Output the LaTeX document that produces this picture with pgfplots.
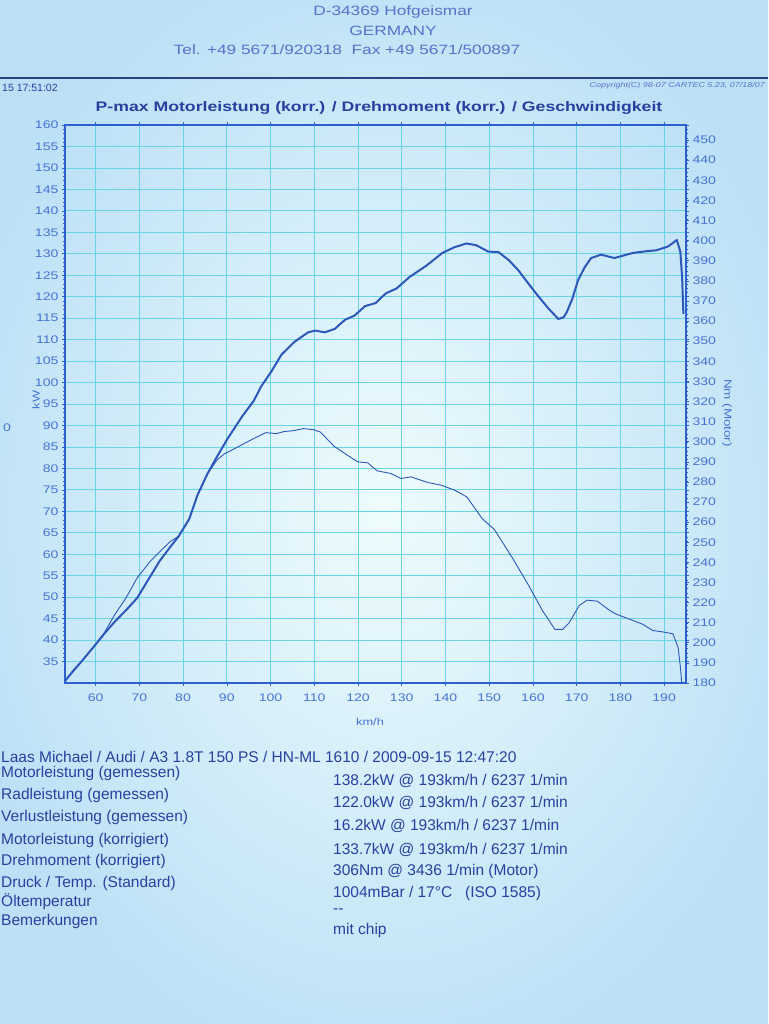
\documentclass[border=0pt]{standalone}
\usepackage{fontspec}
\setmainfont{Liberation Sans}
\newfontfamily\wide[FakeStretch=1.28]{Liberation Sans}
\usepackage{pgfplots}
\pgfplotsset{compat=1.18}
\definecolor{bgin}{RGB}{238,252,252}
\definecolor{bgout}{RGB}{188,224,246}
\definecolor{gridc}{RGB}{105,212,228}
\definecolor{axc}{RGB}{45,95,205}
\definecolor{curvec}{RGB}{45,88,185}
\definecolor{tickc}{RGB}{70,115,210}
\definecolor{txtc}{RGB}{40,65,160}
\definecolor{hdrc}{RGB}{85,115,200}
\definecolor{rulec}{RGB}{45,65,135}

\pgfplotstableread{
x kW
52.8 30.2
55.0 33.0
56.6 34.8
59.7 38.6
62.0 41.5
64.3 44.2
67.0 47.0
69.5 49.8
72.0 54.0
74.7 58.5
77.0 61.6
79.0 64.2
81.4 68.2
83.3 73.8
85.6 78.8
87.8 82.8
90.1 86.8
93.5 92.1
96.2 95.8
97.8 99.0
100.2 102.6
102.5 106.5
105.5 109.5
108.6 111.7
110.2 112.1
112.4 111.7
114.7 112.5
117.0 114.6
119.2 115.6
121.6 117.8
124.0 118.5
126.4 120.8
128.8 121.9
131.8 124.6
135.6 127.2
139.3 130.2
142.0 131.5
144.8 132.4
147.0 132.0
149.8 130.5
152.1 130.4
154.5 128.5
156.7 126.1
159.0 123.0
161.3 120.0
163.5 117.3
165.8 114.8
167.0 115.2
167.7 116.3
169.0 119.5
170.3 123.8
171.8 126.8
173.3 129.0
175.6 129.8
178.6 129.0
182.9 130.2
186.0 130.6
188.2 130.8
190.9 131.7
192.9 133.2
193.7 130.5
194.1 124.7
194.4 116.0
}\powertable

\pgfplotstableread{
x Nm
52.8 180.5
55.0 186.0
56.6 190.2
59.7 198.4
62.0 205.0
64.3 213.7
67.0 222.5
69.5 232.3
72.6 240.8
75.0 246.0
77.1 250.4
79.0 253.0
81.4 261.5
83.3 273.5
85.6 284.1
87.8 291.0
89.5 294.0
91.3 296.0
95.8 301.2
98.9 304.5
101.3 304.0
103.0 305.0
105.2 305.5
107.5 306.5
109.8 306.0
111.4 304.8
114.5 297.8
116.8 294.4
119.9 290.0
122.2 289.5
124.4 285.5
127.5 284.2
129.8 281.7
132.1 282.5
136.0 279.7
139.1 278.3
142.2 275.8
144.9 272.5
148.4 261.7
151.2 256.3
155.3 242.2
159.1 228.2
162.1 216.3
165.0 206.7
166.8 206.7
168.3 210.0
170.6 218.6
172.4 221.2
174.7 220.7
177.6 216.0
179.1 214.2
182.0 211.8
185.1 209.2
187.4 206.1
189.7 205.4
192.0 204.5
193.2 197.6
193.7 188.2
194.0 180.5
}\torquetable

\begin{document}
\begin{tikzpicture}[x=1pt,y=1pt]
\path[use as bounding box] (0,0) rectangle (768,1024);
\clip (0,0) rectangle (768,1024);
\shade[inner color=bgin, outer color=bgout] (-60,-60) rectangle (828,1084);

% header
\node[hdrc, font=\wide\fontsize{13.5}{15}\selectfont] at (393,1012) {D-34369 Hofgeismar};
\node[hdrc, font=\wide\fontsize{13.5}{15}\selectfont] at (393,993) {GERMANY};
\node[hdrc, font=\wide\fontsize{13.5}{15}\selectfont] at (347,974) {Tel. +49 5671/920318\ \ Fax +49 5671/500897};
\draw[rulec, line width=2.4pt] (0,946) -- (768,946);
\node[anchor=west, txtc, font=\fontsize{10.5}{12}\selectfont, inner sep=1pt] at (1,936) {15 17:51:02};
\node[anchor=east, hdrc, font=\wide\itshape\fontsize{7}{8}\selectfont, inner sep=1pt] at (766,938) {Copyright(C) 98-07 CARTEC 5.23, 07/18/07};
\node[txtc, font=\wide\bfseries\fontsize{13.8}{16}\selectfont] at (379,916) {P-max Motorleistung (korr.) / Drehmoment (korr.) / Geschwindigkeit};

% axis labels
\node[rotate=90, tickc, font=\wide\fontsize{10}{12}\selectfont] at (36,624) {kW};
\node[tickc, font=\wide\fontsize{11}{12}\selectfont] at (7,596) {0};
\node[rotate=-90, tickc, font=\wide\fontsize{10.5}{12}\selectfont] at (727,611) {Nm (Motor)};
\node[tickc, font=\wide\fontsize{10}{12}\selectfont] at (370,302) {km/h};

\begin{axis}[
  at={(65pt,341pt)}, anchor=south west, scale only axis,
  width=621pt, height=558pt,
  xmin=53, xmax=195, ymin=30, ymax=160,
  xtick={60,70,...,190}, ytick={35,40,...,160},
  grid=major, major grid style={gridc, line width=0.8pt},
  axis line style={axc, line width=1.6pt},
  tick style={axc, line width=0.6pt}, tick align=outside,
  major tick length=3pt, minor tick length=2pt,
  minor y tick num=4,
  ticklabel style={font=\wide\fontsize{11}{12}\selectfont, text=tickc},
  xticklabel style={yshift=-4pt},
  /pgf/number format/assume math mode=true,
  /pgf/number format/1000 sep={},
]
\addplot[curvec, line width=2pt, line join=round] table[x=x, y=kW] {\powertable};
\end{axis}

\begin{axis}[
  at={(65pt,341pt)}, anchor=south west, scale only axis,
  width=621pt, height=558pt,
  xmin=53, xmax=195, ymin=180, ymax=457.5,
  axis y line*=right, axis x line=none,
  ytick={180,190,...,450},
  axis line style={axc, line width=1.6pt},
  tick style={axc, line width=0.6pt}, tick align=outside,
  major tick length=3pt,
  ticklabel style={font=\wide\fontsize{11}{12}\selectfont, text=tickc},
  /pgf/number format/assume math mode=true,
]
\addplot[curvec, line width=0.9pt, line join=round] table[x=x, y=Nm] {\torquetable};
\end{axis}

% footer
\begin{scope}[every node/.style={anchor=west, txtc, font=\fontsize{15.5}{18}\selectfont, inner sep=0pt}]
\node at (1,267) {Laas Michael / Audi / A3 1.8T 150 PS / HN-ML 1610 / 2009-09-15 12:47:20};
\node at (1,251) {Motorleistung (gemessen)};
\node at (1,229) {Radleistung (gemessen)};
\node at (1,207) {Verlustleistung (gemessen)};
\node at (1,184) {Motorleistung (korrigiert)};
\node at (1,163) {Drehmoment (korrigiert)};
\node at (1,141) {Druck / Temp. (Standard)};
\node at (1,122) {Öltemperatur};
\node at (1,103) {Bemerkungen};
\node at (333,243) {138.2kW @ 193km/h / 6237 1/min};
\node at (333,221) {122.0kW @ 193km/h / 6237 1/min};
\node at (333,198) {16.2kW @ 193km/h / 6237 1/min};
\node at (333,174) {133.7kW @ 193km/h / 6237 1/min};
\node at (333,153) {306Nm @ 3436 1/min (Motor)};
\node at (333,131) {1004mBar / 17°C\ \ \ (ISO 1585)};
\node at (333,113) {-{}-};
\node at (333,94) {mit chip};
\end{scope}
\end{tikzpicture}
\end{document}
